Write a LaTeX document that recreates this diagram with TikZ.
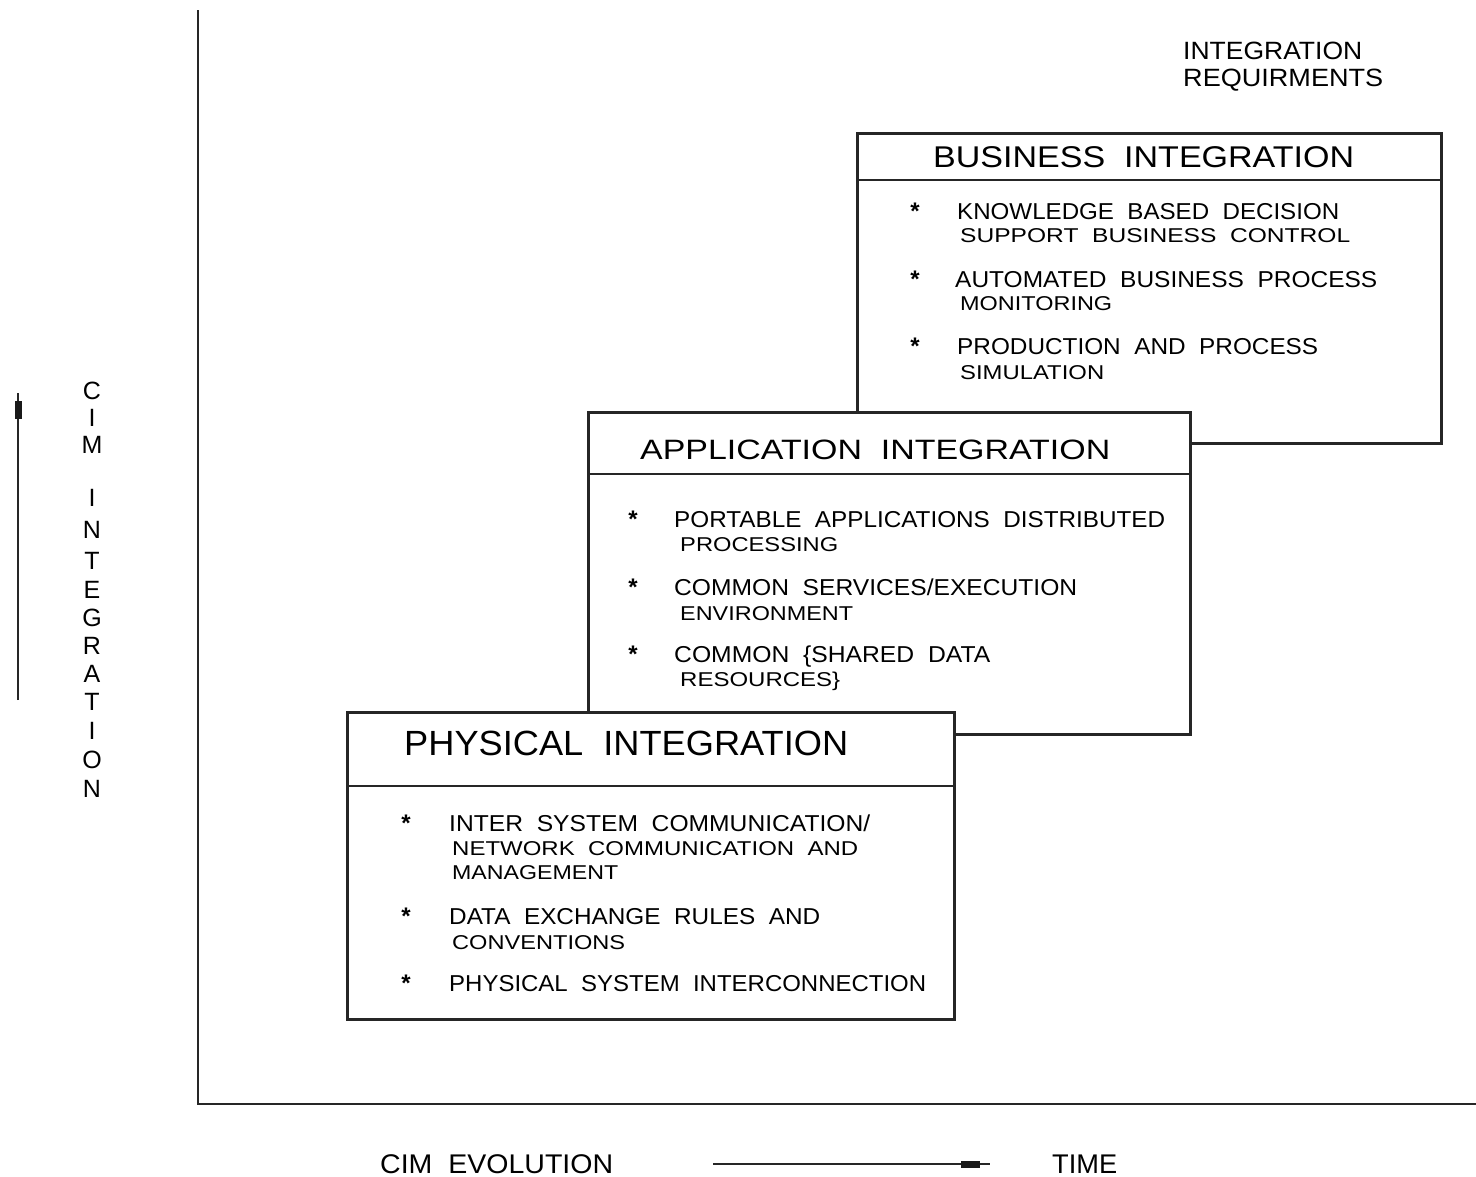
\documentclass[tikz,border=0pt]{standalone}
\usepackage{fontspec}
\setmainfont{Liberation Sans}
\usepackage{graphicx}
\newcommand\fw[2]{\resizebox{#1pt}{\height}{#2}}
\newcommand\fsz[1]{\fontsize{#1}{#1}\selectfont}
\tikzset{
  txt/.style={inner sep=0pt, anchor=base west},
  bul/.style={inner sep=0pt, anchor=base, font=\fsz{24}\bfseries},
  item/.style={txt, font=\fsz{23}},
  itemb/.style={txt, font=\fsz{20}},
  boxline/.style={line width=2.8pt, draw=black!85},
  panel/.style={boxline, fill=white, inner sep=0pt, anchor=north west},
  axis/.style={line width=2.6pt, draw=black!85},
  vl/.style={inner sep=0pt, anchor=center, font=\fsz{25}},
}
\begin{document}
\begin{tikzpicture}[x=1pt,y=-1pt]
\useasboundingbox (0,0) rectangle (1476,1176);

% axes
\coordinate (ytop) at (198,10);
\coordinate (org) at (198,1104);
\coordinate (xend) at (1476,1104);
\draw[axis] (ytop) -- (org) -- (xend);

% top-right label
\node[txt, font=\fsz{25}] (ir1) at (1183,59) {\fw{179}{INTEGRATION}};
\node[txt, font=\fsz{25}] (ir2) at (1183,86) {\fw{200}{REQUIRMENTS}};

% ---------- Business integration ----------
\node[panel, minimum width=584pt, minimum height=310pt] (bus) at (856,132) {};
\draw[boxline] (856,180) -- (1440,180);
\node[txt, font=\fsz{30}] (bush) at (933,167) {\fw{421}{BUSINESS\ \ INTEGRATION}};
\node[bul] (bb1) at (915,219) {*};
\node[item] (b1a) at (957,219) {\fw{382}{KNOWLEDGE\ \ BASED\ \ DECISION}};
\node[itemb] (b1b) at (960,242) {\fw{390}{SUPPORT\ \ BUSINESS\ \ CONTROL}};
\node[bul] (bb2) at (915,287) {*};
\node[item] (b2a) at (955,287) {\fw{422}{AUTOMATED\ \ BUSINESS\ \ PROCESS}};
\node[itemb] (b2b) at (960,310) {\fw{152}{MONITORING}};
\node[bul] (bb3) at (915,354) {*};
\node[item] (b3a) at (957,354) {\fw{361}{PRODUCTION\ \ AND\ \ PROCESS}};
\node[itemb] (b3b) at (960,379) {\fw{144}{SIMULATION}};

% ---------- Application integration ----------
\node[panel, minimum width=602pt, minimum height=322pt] (app) at (587,411) {};
\draw[boxline] (587,474) -- (1189,474);
\node[txt, font=\fsz{28}] (apph) at (640,459) {\fw{470}{APPLICATION\ \ INTEGRATION}};
\node[bul] (ab1) at (633,527) {*};
\node[item] (a1a) at (674,527) {\fw{491}{PORTABLE\ \ APPLICATIONS\ \ DISTRIBUTED}};
\node[itemb] (a1b) at (680,551) {\fw{158}{PROCESSING}};
\node[bul] (ab2) at (633,595) {*};
\node[item] (a2a) at (674,595) {\fw{403}{COMMON\ \ SERVICES/EXECUTION}};
\node[itemb] (a2b) at (680,620) {\fw{173}{ENVIRONMENT}};
\node[bul] (ab3) at (633,662) {*};
\node[item] (a3a) at (674,662) {\fw{316}{COMMON\ \ \{SHARED\ \ DATA}};
\node[itemb] (a3b) at (680,686) {\fw{160}{RESOURCES\}}};

% ---------- Physical integration ----------
\node[panel, minimum width=607pt, minimum height=307pt] (phy) at (346,711) {};
\draw[boxline] (346,786) -- (953,786);
\node[txt, font=\fsz{35}] (phyh) at (404,755) {\fw{444}{PHYSICAL\ \ INTEGRATION}};
\node[bul] (pb1) at (406,831) {*};
\node[item] (p1a) at (449,831) {\fw{421}{INTER\ \ SYSTEM\ \ COMMUNICATION/}};
\node[itemb] (p1b) at (452,855) {\fw{406}{NETWORK\ \ COMMUNICATION\ \ AND}};
\node[itemb] (p1c) at (452,879) {\fw{166}{MANAGEMENT}};
\node[bul] (pb2) at (406,924) {*};
\node[item] (p2a) at (449,924) {\fw{371}{DATA\ \ EXCHANGE\ \ RULES\ \ AND}};
\node[itemb] (p2b) at (452,949) {\fw{173}{CONVENTIONS}};
\node[bul] (pb3) at (406,991) {*};
\node[item] (p3a) at (449,991) {\fw{477}{PHYSICAL\ \ SYSTEM\ \ INTERCONNECTION}};

% ---------- vertical axis label ----------
\coordinate (va0) at (18,700);
\coordinate (va1) at (18,393);
\draw[line width=2.2pt, draw=black!85] (va0) -- (va1);
\fill[black!90] (14.5,401) rectangle (21.5,419);
\node[vl] (v1) at (92,391) {C};
\node[vl] (v2) at (92,418) {I};
\node[vl] (v3) at (92,445) {M};
\node[vl] (v4) at (92,498) {I};
\node[vl] (v5) at (92,530) {N};
\node[vl] (v6) at (92,561) {T};
\node[vl] (v7) at (92,590) {E};
\node[vl] (v8) at (92,618) {G};
\node[vl] (v9) at (92,646) {R};
\node[vl] (v10) at (92,674) {A};
\node[vl] (v11) at (92,702) {T};
\node[vl] (v12) at (92,731) {I};
\node[vl] (v13) at (92,760) {O};
\node[vl] (v14) at (92,789) {N};

% ---------- bottom label ----------
\node[txt, font=\fsz{27}] (cim) at (380,1173) {\fw{233}{CIM\ \ EVOLUTION}};
\node[txt, font=\fsz{27}] (time) at (1052,1173) {\fw{65}{TIME}};
\coordinate (ha0) at (713,1164);
\coordinate (ha1) at (990,1164);
\draw[line width=2.2pt, draw=black!85] (ha0) -- (ha1);
\fill[black!90] (961,1160.5) rectangle (980,1168);
\end{tikzpicture}
\end{document}
